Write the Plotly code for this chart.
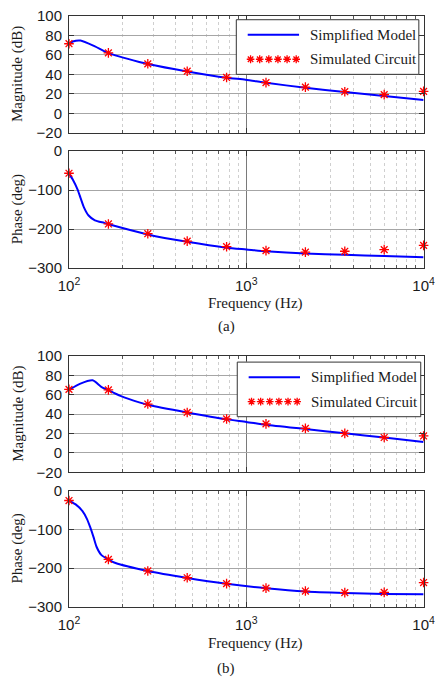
import plotly.graph_objects as go

W, H = 446, 691

# ---------------- data ----------------
star_freq = [100, 166.8, 278.3, 464.2, 774.3, 1291.5, 2154.4, 3593.8, 5994.8, 10000]

# (a)
mag_a_freq = [100, 105, 116, 140, 166, 249, 278, 464, 774, 990, 1291, 2154, 3594, 5995, 10000]
mag_a_line = [71.5, 73.7, 74.7, 68.7, 62.0, 52.7, 50.6, 43.0, 36.6, 34.5, 31.3, 26.3, 21.9, 17.9, 13.6]
mag_a_star = [71.4, 62.0, 50.8, 43.2, 36.8, 31.5, 26.9, 22.2, 19.2, 22.6]

ph_a_freq = [100, 105, 111.7, 116, 121.4, 129, 140, 158, 166, 278, 464, 774, 1000, 1291, 2154, 3594, 5995, 10000]
ph_a_line = [-57, -73, -98, -119, -144, -165, -177.5, -184, -187, -213.5, -232.5, -247.5, -252, -256.5, -262.5, -265.5, -269, -271.7]
ph_a_star = [-56.7, -186.7, -211.7, -230.8, -245, -255, -259, -256.7, -252.5, -241.7]

# (b)
mag_b_freq = [100, 116, 136, 152, 166, 195, 249, 278, 464, 774, 1000, 1291, 2154, 3594, 5995, 10000]
mag_b_line = [65.0, 71.5, 74.9, 68.2, 64.8, 58.8, 52.1, 49.7, 41.7, 34.6, 32.0, 29.0, 24.6, 20.2, 15.9, 11.2]
mag_b_star = [65.5, 65.0, 50.4, 41.7, 35.0, 30.0, 25.3, 20.2, 15.9, 17.5]

ph_b_freq = [100, 109, 118.9, 126.4, 131.7, 137.4, 143, 152, 166, 183, 278, 464, 774, 1291, 2154, 3594, 5995, 10000]
ph_b_line = [-25, -35, -52, -73, -94, -119, -144.5, -165.5, -177, -186.5, -207, -225, -240, -251.5, -260, -264, -266.6, -267.5]
ph_b_star = [-25, -177, -207, -224.6, -239.7, -251.5, -259, -263, -262.3, -237]

mag_ticks = [-20, 0, 20, 40, 60, 80, 100]
ph_ticks = [-300, -200, -100, 0]
x_major = [100, 1000, 10000]
x_major_text = ["10<sup>2</sup>", "10<sup>3</sup>", "10<sup>4</sup>"]
x_minor = [200, 300, 400, 500, 600, 700, 800, 900, 2000, 3000, 4000, 5000, 6000, 7000, 8000, 9000]

legend_labels = ["Simplified Model", "Simulated Circuit"]
legend_star_slots = [0, 1, 2, 3, 4, 5]

# ---------------- geometry (pixels) ----------------
X0, X1 = 61, 434
panels = [  # (top px, bottom px)
    (7, 127),
    (145.7, 265.7),
    (355.7, 475),
    (494, 613),
]

def py(v):
    return 1 - v / H

def px(v):
    return v / W

BLUE = "#0000ff"
RED = "#ff0000"
SANS = "Liberation Sans"
SERIF = "Liberation Serif"
TXT = "#1a1a1a"

fig = go.Figure()

series = [
    (mag_a_freq, mag_a_line, mag_a_star),
    (ph_a_freq, ph_a_line, ph_a_star),
    (mag_b_freq, mag_b_line, mag_b_star),
    (ph_b_freq, ph_b_line, ph_b_star),
]

for i, (f, line, star) in enumerate(series):
    xa = "x" if i == 0 else f"x{i+1}"
    ya = "y" if i == 0 else f"y{i+1}"
    fig.add_trace(go.Scatter(x=f, y=line, mode="lines", xaxis=xa, yaxis=ya,
                             line=dict(color=BLUE, width=2, shape="spline", smoothing=0.6),
                             showlegend=False, cliponaxis=True))
    fig.add_trace(go.Scatter(x=star_freq, y=star, mode="markers", xaxis=xa, yaxis=ya,
                             marker=dict(symbol="asterisk-open", size=8, color=RED,
                                         line=dict(color=RED, width=1.3)),
                             showlegend=False, cliponaxis=False))

layout = dict(width=W, height=H, margin=dict(l=0, r=0, t=0, b=0),
              paper_bgcolor="white", plot_bgcolor="white", showlegend=False)

for i, (top, bot) in enumerate(panels):
    xk = "xaxis" if i == 0 else f"xaxis{i+1}"
    yk = "yaxis" if i == 0 else f"yaxis{i+1}"
    xa = "x" if i == 0 else f"x{i+1}"
    ya = "y" if i == 0 else f"y{i+1}"
    is_mag = i in (0, 2)
    layout[xk] = dict(
        type="log", range=[2, 4], domain=[px(X0), px(X1)], anchor=ya,
        tickmode="array", tickvals=x_major,
        ticktext=x_major_text if not is_mag else ["", "", ""],
        showticklabels=not is_mag,
        ticks="inside", ticklen=5, tickcolor="#333333",
        showline=True, linecolor="#333333", linewidth=1, mirror="ticks",
        showgrid=True, gridcolor="#7a7a7a", gridwidth=1,
        zeroline=False,
        tickfont=dict(family=SANS, size=15, color=TXT),
        ticklabelstandoff=4,
        minor=dict(tickmode="array", tickvals=x_minor, ticks="inside", ticklen=3,
                   tickcolor="#555555", showgrid=True, gridcolor="#cfcfcf",
                   griddash="dot", gridwidth=1),
    )
    layout[yk] = dict(
        range=[-20, 100] if is_mag else [-300, 0], domain=[py(bot), py(top)], anchor=xa,
        tickmode="array", tickvals=mag_ticks if is_mag else ph_ticks,
        ticks="inside", ticklen=5, tickcolor="#333333",
        showline=True, linecolor="#333333", linewidth=1, mirror="ticks",
        showgrid=True, gridcolor="#a6a6a6", gridwidth=1, zeroline=False,
        tickfont=dict(family=SANS, size=15, color=TXT),
        ticklabelstandoff=3,
    )

annotations = []
shapes = []

# axis titles
for i, (top, bot) in enumerate(panels):
    is_mag = i in (0, 2)
    annotations.append(dict(
        text="Magnitude (dB)" if is_mag else "Phase (deg)", textangle=-90,
        x=px(7), y=py((top + bot) / 2), xref="paper", yref="paper",
        xanchor="center", yanchor="middle", showarrow=False,
        font=dict(family=SERIF, size=15, color=TXT)))

for yc in (302, 650):
    annotations.append(dict(text="Frequency (Hz)", x=px(257.5), y=py(yc), xref="paper", yref="paper",
                            xanchor="center", yanchor="middle", showarrow=False,
                            font=dict(family=SERIF, size=15, color=TXT)))

for lab, yc in (("(a)", 325), ("(b)", 676)):
    annotations.append(dict(text=lab, x=px(226.5), y=py(yc), xref="paper", yref="paper",
                            xanchor="center", yanchor="middle", showarrow=False,
                            font=dict(family=SERIF, size=15, color=TXT)))

# legends (drawn by hand: box, line sample, six star glyphs, labels)
legend_boxes = [((237, 429), (11, 67)), ((238, 431), (362, 418))]
R = 4.0
D = R * 0.72
for k, ((lx0, lx1), (ly0, ly1)) in enumerate(legend_boxes):
    shapes.append(dict(type="rect", xref="paper", yref="paper",
                       x0=px(lx0), x1=px(lx1), y0=py(ly1), y1=py(ly0),
                       line=dict(color="#333333", width=1), fillcolor="white", layer="above"))
    cy = (ly0 + ly1) / 2
    r1, r2 = cy - 12.5, cy + 12.5
    shapes.append(dict(type="line", xref="paper", yref="paper",
                       x0=px(lx0 + 12), x1=px(lx0 + 66), y0=py(r1), y1=py(r1),
                       line=dict(color=BLUE, width=2), layer="above"))
    sx0, sx1 = lx0 + 15, lx0 + 63
    step = (sx1 - sx0) / (len(legend_star_slots) - 1)
    path = ""
    for s in legend_star_slots:
        cx = sx0 + s * step
        segs = [(cx - R, r2, cx + R, r2), (cx, r2 - R, cx, r2 + R),
                (cx - D, r2 - D, cx + D, r2 + D), (cx - D, r2 + D, cx + D, r2 - D)]
        for (a, b, c, d) in segs:
            path += f"M{px(a):.5f},{py(b):.5f}L{px(c):.5f},{py(d):.5f}"
    shapes.append(dict(type="path", xref="paper", yref="paper", path=path,
                       line=dict(color=RED, width=1.3), layer="above"))
    for lab, yy in zip(legend_labels, (r1, r2)):
        annotations.append(dict(text=lab, x=px(lx0 + 75), y=py(yy), xref="paper", yref="paper",
                                xanchor="left", yanchor="middle", showarrow=False,
                                font=dict(family=SERIF, size=15, color=TXT)))

layout["annotations"] = annotations
layout["shapes"] = shapes
fig.update_layout(**layout)
fig.write_html("out.html")
